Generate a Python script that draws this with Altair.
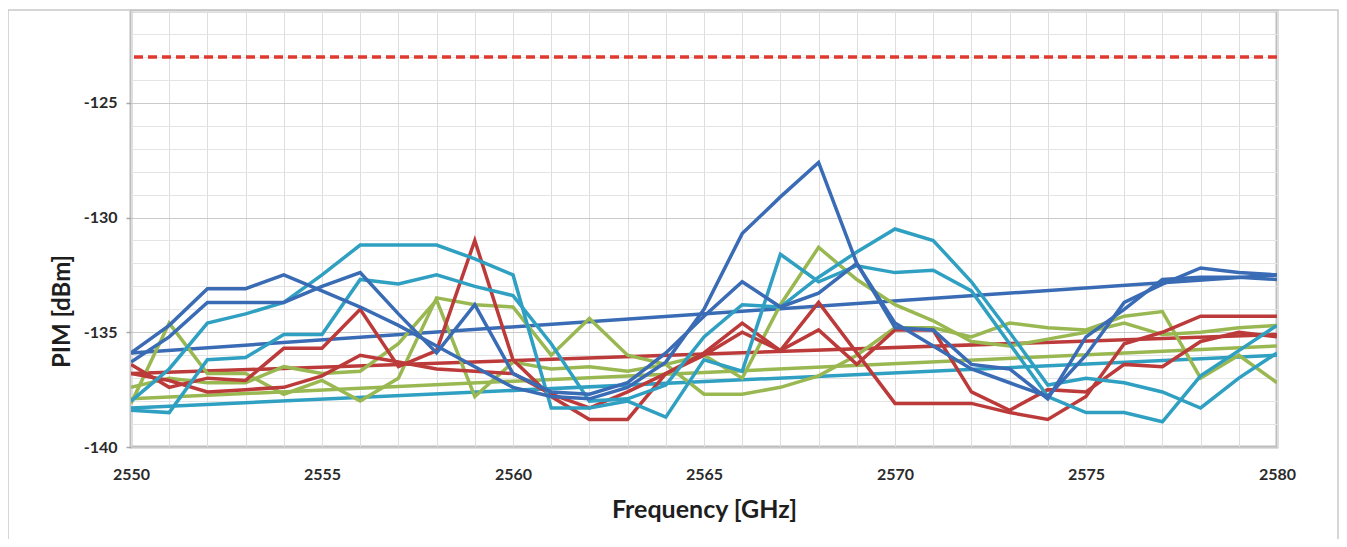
import altair as alt
import pandas as pd

freq = list(range(2550, 2581))

blue_a = [-135.9, -134.7, -133.1, -133.1, -132.5, -133.2, -133.9, -134.7, -135.6, -136.5,
          -137.4, -137.8, -137.9, -137.4, -136.3, -134.0, -130.7, -129.1, -127.6, -132.0,
          -134.6, -135.6, -136.6, -137.2, -137.8, -136.0, -133.7, -132.9, -132.2, -132.4, -132.5]
blue_b = [-136.3, -135.2, -133.7, -133.7, -133.7, -133.0, -132.4, -134.2, -135.9, -133.8,
          -136.8, -137.6, -137.7, -137.2, -135.9, -134.3, -132.8, -133.9, -133.3, -132.0,
          -134.8, -134.9, -136.4, -136.6, -137.9, -135.2, -134.0, -132.7, -132.6, -132.6, -132.7]
teal_a = [-138.0, -136.6, -134.6, -134.2, -133.7, -132.5, -131.2, -131.2, -131.2, -131.8,
          -132.5, -138.3, -138.3, -138.0, -138.7, -136.2, -136.7, -131.6, -132.8, -132.1,
          -132.4, -132.3, -133.2, -135.5, -137.8, -138.5, -138.5, -138.9, -136.9, -135.8, -134.7]
teal_b = [-138.4, -138.5, -136.2, -136.1, -135.1, -135.1, -132.7, -132.9, -132.5, -133.0,
          -133.4, -135.5, -138.0, -137.9, -137.3, -135.2, -133.8, -133.9, -132.6, -131.5,
          -130.5, -131.0, -132.8, -135.0, -137.3, -137.0, -137.2, -137.6, -138.3, -137.0, -135.9]
red_a = [-136.4, -137.4, -137.0, -137.1, -135.7, -135.7, -134.0, -136.5, -135.8, -131.0,
         -136.2, -137.8, -138.8, -138.8, -136.8, -135.9, -134.6, -135.8, -133.7, -135.9,
         -138.1, -138.1, -138.1, -138.5, -138.8, -137.8, -135.5, -135.0, -134.3, -134.3, -134.3]
red_b = [-136.8, -137.1, -137.6, -137.5, -137.4, -136.9, -136.0, -136.3, -136.6, -136.7,
         -136.8, -137.7, -138.3, -137.6, -136.8, -136.0, -135.0, -135.8, -134.9, -136.4,
         -134.9, -134.9, -137.6, -138.4, -137.5, -137.6, -136.4, -136.5, -135.4, -135.0, -135.2]
green_a = [-138.1, -134.6, -136.8, -136.8, -137.7, -137.1, -138.0, -137.0, -133.5, -133.8,
           -133.9, -136.0, -134.4, -136.0, -136.4, -137.7, -137.7, -137.4, -136.9, -136.0,
           -134.8, -134.8, -135.2, -134.6, -134.8, -134.9, -134.3, -134.1, -137.0, -136.0, -137.2]
green_b = [-137.4, -137.0, -137.2, -137.2, -136.5, -136.8, -136.7, -135.5, -133.6, -137.8,
           -136.3, -136.6, -136.5, -136.7, -136.4, -136.0, -137.0, -133.8, -131.3, -132.7,
           -133.8, -134.5, -135.4, -135.6, -135.3, -135.0, -134.6, -135.1, -135.0, -134.8, -134.7]

trend_freq = [2550, 2580]
trend_blue = [-135.9, -132.5]
trend_red = [-136.8, -135.1]
trend_green = [-137.9, -135.6]
trend_teal = [-138.3, -136.0]

limit_level = [-123.0]

color_keys = ["blue", "red", "green", "teal"]
color_values = ["#3A6BB5", "#BC3B3A", "#9AB852", "#2FA0C2"]

series = [
    ("trend_green", "green", trend_freq, trend_green, 0),
    ("trend_red", "red", trend_freq, trend_red, 1),
    ("trend_teal", "teal", trend_freq, trend_teal, 2),
    ("trend_blue", "blue", trend_freq, trend_blue, 3),
    ("green_a", "green", freq, green_a, 4),
    ("green_b", "green", freq, green_b, 5),
    ("red_a", "red", freq, red_a, 6),
    ("red_b", "red", freq, red_b, 7),
    ("teal_a", "teal", freq, teal_a, 8),
    ("teal_b", "teal", freq, teal_b, 9),
    ("blue_a", "blue", freq, blue_a, 10),
    ("blue_b", "blue", freq, blue_b, 11),
]

rows = []
for name, ck, fx, vals, order in series:
    for f, v in zip(fx, vals):
        rows.append({"series": name, "color": ck, "freq": f, "pim": v, "order": order})
df = pd.DataFrame(rows)

font = "Lato"

x_axis = alt.Axis(
    values=freq,
    labelExpr="datum.value % 5 === 0 ? '' + datum.value : ''",
    labelOverlap=False, labelFlush=False,
    title="Frequency [GHz]",
    titleFont=font, titleFontSize=25, titleFontWeight="bold", titleColor="#1E1E1E",
    titleBaseline="alphabetic", titleY=70,
    labelFont=font, labelFontSize=16, labelFontWeight="bold", labelColor="#2A2A2A",
    labelPadding=19, ticks=False, domain=False,
    gridColor="#DEDEDE", gridWidth=1,
)
y_axis = alt.Axis(
    values=list(range(-140, -120)),
    labelExpr="datum.value % 5 === 0 ? '' + datum.value : ''",
    labelOverlap=False, labelFlush=False,
    title="PIM [dBm]",
    titleFont=font, titleFontSize=24, titleFontWeight="bold", titleColor="#1E1E1E",
    titleX=-69, titleY=300, titleAngle=270, titleAlign="center", titleBaseline="middle",
    labelFont=font, labelFontSize=16, labelFontWeight="bold", labelColor="#2A2A2A",
    labelPadding=9, tickSize=5, tickWidth=1.5, tickColor="#A8A8A8",
    tickOpacity={"condition": {"test": "datum.value % 5 === 0", "value": 1}, "value": 0},
    domain=False,
    gridColor={"condition": {"test": "datum.value % 5 === 0", "value": "#CACACA"}, "value": "#E4E4E4"},
    gridWidth=1,
)

xs = alt.Scale(domain=[2550, 2580], nice=False, zero=False)
ys = alt.Scale(domain=[-140, -121], nice=False, zero=False)

lines = alt.Chart(df).mark_line(strokeWidth=3.5, strokeJoin="miter", clip=True).encode(
    x=alt.X("freq:Q", scale=xs, axis=x_axis),
    y=alt.Y("pim:Q", scale=ys, axis=y_axis),
    color=alt.Color("color:N", scale=alt.Scale(domain=color_keys, range=color_values), legend=None),
    detail="series:N",
    order="order:Q",
)

limit_df = pd.DataFrame({"level": limit_level})
limit = alt.Chart(limit_df).mark_rule(color="#E0392F", strokeWidth=3.5, strokeDash=[9, 5]).encode(
    y=alt.Y("level:Q", scale=ys, axis=y_axis),
)

frame_df = pd.DataFrame({"k": [0]})
frame = alt.Chart(frame_df).mark_rect(fillOpacity=0, stroke="#C9C9C9", strokeWidth=1.5).encode(
    x=alt.value(-123), x2=alt.value(1207), y=alt.value(-1), y2=alt.value(620),
)

chart = alt.layer(frame, lines, limit).properties(
    width=1146, height=436,
    autosize=alt.AutoSizeParams(type="none"),
    padding={"left": 123, "top": 3, "right": 62, "bottom": 92},
).configure_view(
    stroke="#BDBDBD", strokeWidth=3,
).configure_axis(
    labelOverlap=False,
)

chart.save("out.html", embed_options={"renderer": "svg", "actions": False})
